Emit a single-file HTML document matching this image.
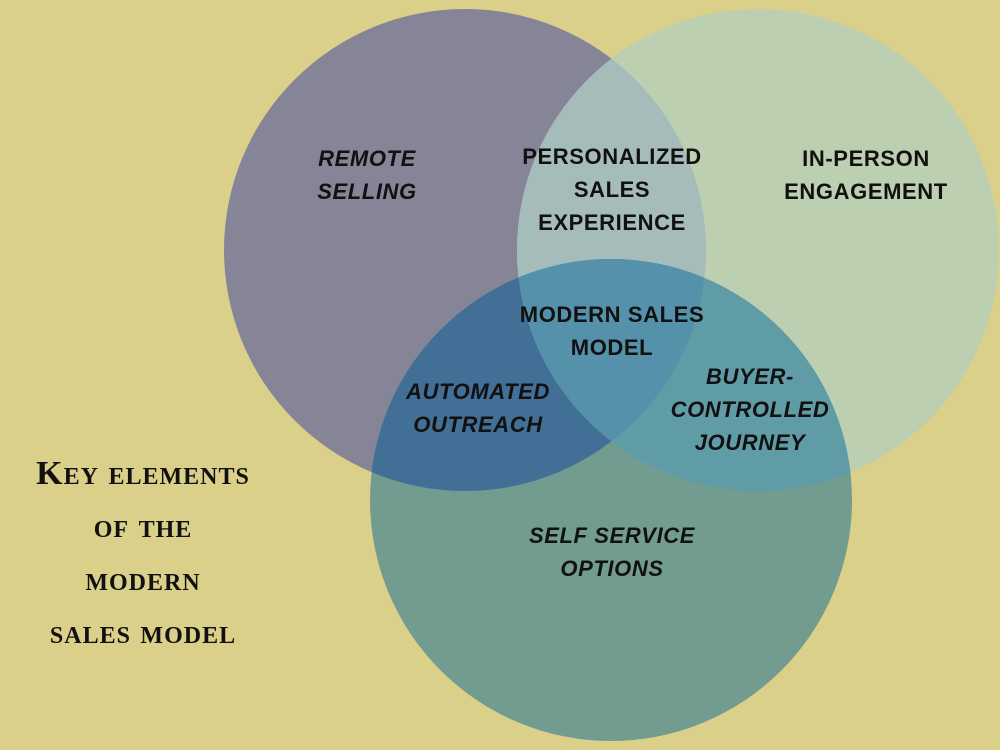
<!DOCTYPE html>
<html><head><meta charset="utf-8"><style>
html,body{margin:0;padding:0;width:1000px;height:750px;overflow:hidden;background:#dbd08a}
svg{display:block}
.t{font-family:"Liberation Sans",sans-serif;font-size:22px;font-weight:bold;fill:#111;text-anchor:middle;letter-spacing:0.6px}
.i{font-style:italic}
.k{font-family:"Liberation Serif",serif;font-variant:small-caps;font-weight:bold;font-size:34px;fill:#111;text-anchor:middle;letter-spacing:1px}
</style></head><body>
<svg width="1000" height="750" viewBox="0 0 1000 750">
<defs>
<clipPath id="A"><circle cx="465" cy="250" r="241"/></clipPath>
<clipPath id="B"><circle cx="758" cy="250" r="241"/></clipPath>
<clipPath id="C"><circle cx="611" cy="500" r="241"/></clipPath>
</defs>
<rect width="1000" height="750" fill="#dbd08a"/>
<circle cx="465" cy="250" r="241" fill="#858597"/>
<circle cx="758" cy="250" r="241" fill="#bccfb0"/>
<circle cx="611" cy="500" r="241" fill="#729c8f"/>
<g clip-path="url(#A)"><circle cx="758" cy="250" r="241" fill="#a5bcbb"/></g>
<g clip-path="url(#A)"><circle cx="611" cy="500" r="241" fill="#426f95"/></g>
<g clip-path="url(#B)"><circle cx="611" cy="500" r="241" fill="#5f9ca6"/></g>
<g clip-path="url(#A)"><g clip-path="url(#B)"><circle cx="611" cy="500" r="241" fill="#5691ab"/></g></g>
<text class="t i" x="367" y="166">REMOTE</text>
<text class="t i" x="367" y="199">SELLING</text>
<text class="t" x="612" y="164">PERSONALIZED</text>
<text class="t" x="612" y="197">SALES</text>
<text class="t" x="612" y="230">EXPERIENCE</text>
<text class="t" x="866" y="166">IN-PERSON</text>
<text class="t" x="866" y="199">ENGAGEMENT</text>
<text class="t" x="612" y="322">MODERN SALES</text>
<text class="t" x="612" y="355">MODEL</text>
<text class="t i" x="478" y="399">AUTOMATED</text>
<text class="t i" x="478" y="432">OUTREACH</text>
<text class="t i" x="750" y="384">BUYER-</text>
<text class="t i" x="750" y="417">CONTROLLED</text>
<text class="t i" x="750" y="450">JOURNEY</text>
<text class="t i" x="612" y="543">SELF SERVICE</text>
<text class="t i" x="612" y="576">OPTIONS</text>
<text class="k" x="143" y="484">Key elements</text>
<text class="k" x="143" y="537">of the</text>
<text class="k" x="143" y="590">modern</text>
<text class="k" x="143" y="643">sales model</text>
</svg>
</body></html>
